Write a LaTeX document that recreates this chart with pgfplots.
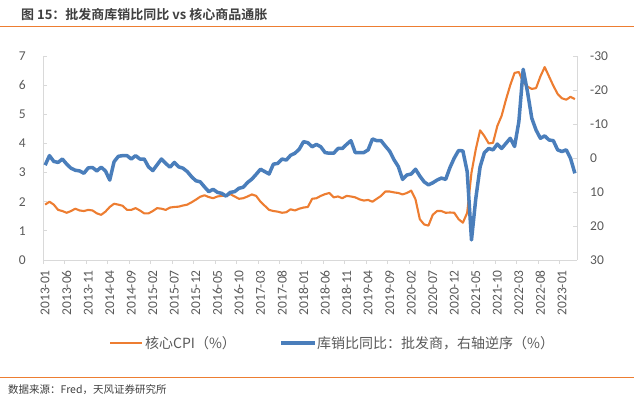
\documentclass[border=0pt]{standalone}
\usepackage{pgfplots}
\pgfplotsset{compat=1.18}
\usepackage{fontspec}
\setmainfont{Noto Sans CJK SC}[BoldFont={Noto Sans CJK SC Bold}]
\newfontfamily\tickfont{Carlito}
\definecolor{corange}{HTML}{ED7D31}
\definecolor{cblue}{HTML}{4A7EBB}
\definecolor{axgray}{HTML}{D9D9D9}
\definecolor{txtgray}{HTML}{595959}
\definecolor{ttlgray}{HTML}{3F3F3F}
\begin{document}
\begin{tikzpicture}
\path[use as bounding box] (0,0) rectangle (634bp,404bp);
\node[anchor=west, inner sep=0pt, text=ttlgray] at (21bp,389bp) {\bfseries\fontsize{13bp}{15bp}\selectfont 图 15：批发商库销比同比 vs 核心商品通胀};
\draw[corange, line width=1bp] (0,377.5bp) -- (634bp,377.5bp);
\begin{axis}[
  at={(43bp,144bp)}, anchor=south west, scale only axis, width=534bp, height=204bp,
  xmin=-0.5, xmax=123.5, ymin=0, ymax=7,
  axis x line*=bottom, axis y line*=left,
  axis line style={axgray, line width=0.8bp, -},
  xtick={0,5,...,120},
  xticklabels={2013-01,2013-06,2013-11,2014-04,2014-09,2015-02,2015-07,2015-12,2016-05,2016-10,2017-03,2017-08,2018-01,2018-06,2018-11,2019-04,2019-09,2020-02,2020-07,2020-12,2021-05,2021-10,2022-03,2022-08,2023-01},
  major x tick style={draw=none},
  minor xtick={-0.5,4.5,...,119.5},
  minor x tick style={axgray, line width=0.8bp, yshift=-4bp},
  minor tick length=4bp,
  ytick={0,1,...,7},
  tick align=inside, major tick length=4bp,
  major y tick style={axgray, line width=0.8bp},
  /pgf/number format/assume math mode=true,
  x tick label style={rotate=90, anchor=east, inner sep=0pt, font=\tickfont\fontsize{13.5bp}{14bp}\selectfont, text=txtgray},
  xticklabel shift=10bp,
  y tick label style={anchor=east, inner sep=0pt, font=\tickfont\fontsize{13.5bp}{14bp}\selectfont, text=txtgray},
  yticklabel shift=17bp,
]
\addplot[corange, line width=2.1bp, line join=round] coordinates {
(0,1.9)(1,2.0)(2,1.9)(3,1.72)(4,1.68)(5,1.62)(6,1.68)(7,1.76)(8,1.7)(9,1.68)(10,1.72)(11,1.7)
(12,1.6)(13,1.55)(14,1.66)(15,1.82)(16,1.93)(17,1.9)(18,1.86)(19,1.72)(20,1.72)(21,1.78)(22,1.7)(23,1.6)
(24,1.6)(25,1.68)(26,1.78)(27,1.76)(28,1.72)(29,1.8)(30,1.82)(31,1.83)(32,1.87)(33,1.9)(34,1.98)(35,2.07)
(36,2.17)(37,2.22)(38,2.16)(39,2.12)(40,2.18)(41,2.2)(42,2.2)(43,2.26)(44,2.18)(45,2.1)(46,2.12)(47,2.18)
(48,2.25)(49,2.2)(50,2.0)(51,1.86)(52,1.72)(53,1.68)(54,1.66)(55,1.62)(56,1.64)(57,1.74)(58,1.7)(59,1.76)
(60,1.8)(61,1.82)(62,2.1)(63,2.12)(64,2.2)(65,2.26)(66,2.3)(67,2.15)(68,2.18)(69,2.12)(70,2.2)(71,2.18)
(72,2.15)(73,2.08)(74,2.04)(75,2.06)(76,2.0)(77,2.1)(78,2.2)(79,2.35)(80,2.35)(81,2.32)(82,2.3)(83,2.25)
(84,2.3)(85,2.38)(86,2.08)(87,1.4)(88,1.22)(89,1.18)(90,1.55)(91,1.68)(92,1.68)(93,1.62)(94,1.63)(95,1.62)
(96,1.4)(97,1.28)(98,1.62)(99,3.0)(100,3.8)(101,4.45)(102,4.25)(103,4.0)(104,4.02)(105,4.6)(106,4.95)(107,5.5)
(108,6.0)(109,6.42)(110,6.45)(111,6.1)(112,5.95)(113,5.87)(114,5.9)(115,6.3)(116,6.62)(117,6.3)(118,5.98)(119,5.7)
(120,5.55)(121,5.5)(122,5.6)(123,5.52)
};
\end{axis}
\begin{axis}[
  at={(43bp,144bp)}, anchor=south west, scale only axis, width=534bp, height=204bp,
  xmin=-0.5, xmax=123.5, ymin=-30, ymax=30, y dir=reverse,
  axis x line=none, axis y line*=right,
  axis line style={axgray, line width=0.8bp, -},
  ytick={-30,-20,-10,0,10,20,30},
  yticklabels={-30,-20,-10,0,10,20,30},
  tick align=inside, major tick length=4bp,
  major y tick style={axgray, line width=0.8bp},
  /pgf/number format/assume math mode=true,
  y tick label style={anchor=west, inner sep=0pt, font=\tickfont\fontsize{13.5bp}{14bp}\selectfont, text=txtgray},
  yticklabel shift=13bp,
]
\addplot[cblue, line width=3.5bp, line join=round] coordinates {
(0,2.1)(1,-0.7)(2,1.0)(3,1.3)(4,0.3)(5,1.8)(6,3.0)(7,3.6)(8,3.8)(9,4.5)(10,2.9)(11,2.8)
(12,3.8)(13,2.7)(14,3.8)(15,6.5)(16,1.1)(17,-0.5)(18,-0.7)(19,-0.7)(20,0.3)(21,-0.7)(22,0.3)(23,0.3)
(24,2.6)(25,3.7)(26,2.0)(27,0.3)(28,1.6)(29,2.7)(30,1.3)(31,2.6)(32,3.0)(33,4.0)(34,5.5)(35,6.7)
(36,7.0)(37,8.5)(38,9.9)(39,9.2)(40,10.1)(41,10.4)(42,11.2)(43,10.1)(44,9.9)(45,8.9)(46,8.6)(47,7.2)
(48,6.2)(49,4.8)(50,3.3)(51,4.0)(52,4.7)(53,1.8)(54,1.6)(55,0.3)(56,0.6)(57,-0.8)(58,-1.4)(59,-2.6)
(60,-4.8)(61,-4.5)(62,-3.3)(63,-4.0)(64,-3.3)(65,-1.6)(66,-1.4)(67,-1.4)(68,-2.8)(69,-2.8)(70,-4.0)(71,-5.1)
(72,-1.6)(73,-1.6)(74,-1.6)(75,-2.4)(76,-5.6)(77,-5.1)(78,-5.1)(79,-3.5)(80,-2.0)(81,0.5)(82,2.5)(83,6.3)
(84,5.0)(85,4.7)(86,3.3)(87,5.3)(88,7.0)(89,7.9)(90,7.3)(91,6.5)(92,5.9)(93,6.3)(94,2.8)(95,0.0)
(96,-2.2)(97,-2.1)(98,4.0)(99,24.1)(100,11.9)(101,2.6)(102,-1.6)(103,-2.8)(104,-2.4)(105,-4.1)(106,-2.8)(107,-4.3)
(108,-5.8)(109,-3.4)(110,-10.7)(111,-26.1)(112,-19.5)(113,-11.7)(114,-8.2)(115,-5.8)(116,-6.5)(117,-5.3)(118,-5.1)(119,-2.4)
(120,-1.9)(121,-2.4)(122,0.1)(123,4.5)
};
\end{axis}
\draw[corange, line width=2.1bp] (110bp,61bp) -- (142bp,61bp);
\node[anchor=west, inner sep=0pt, text=txtgray] at (145bp,61bp) {\fontsize{14bp}{16bp}\selectfont 核心CPI（\%）};
\draw[cblue, line width=3.5bp] (281bp,61bp) -- (315bp,61bp);
\node[anchor=west, inner sep=0pt, text=txtgray] at (317bp,61bp) {\fontsize{14bp}{16bp}\selectfont 库销比同比：批发商，右轴逆序（\%）};
\draw[corange, line width=1bp] (0,26bp) -- (634bp,26bp);
\node[anchor=west, inner sep=0pt, text=ttlgray] at (8bp,14bp) {\fontsize{10.5bp}{12bp}\selectfont 数据来源：Fred，天风证券研究所};
\end{tikzpicture}
\end{document}
